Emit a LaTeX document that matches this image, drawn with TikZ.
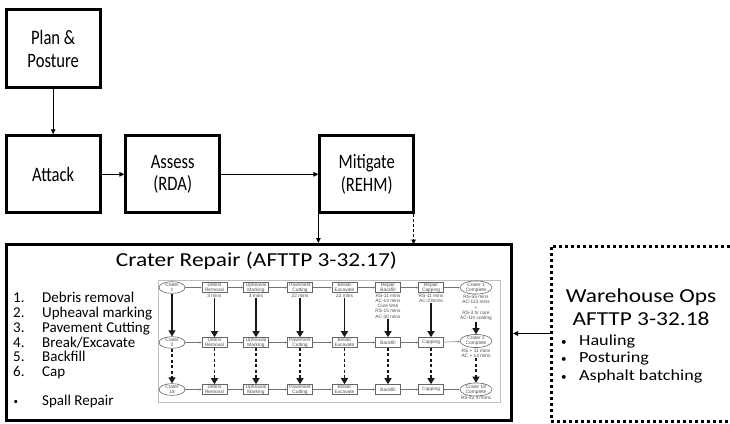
\documentclass[tikz,border=0pt]{standalone}
\usepackage{fontspec}
\setmainfont{Carlito}
\newfontfamily\narrowf[FakeStretch=0.81]{Carlito}
\newfontfamily\widef[FakeStretch=1.18]{Carlito}
\newfontfamily\arialf{Liberation Sans}
\usetikzlibrary{arrows.meta,shapes.geometric}
\begin{document}
\begin{tikzpicture}[x=1pt,y=-1pt,
  topbox/.style={draw,line width=3pt,inner sep=0pt,align=center,font=\narrowf\fontsize{20.5}{22.5}\selectfont},
  conn/.style={line width=1pt,-{Triangle[length=5pt,width=4.5pt]}},
  bigbox/.style={draw,line width=3pt,inner sep=0pt},
  ttl/.style={anchor=base,inner sep=0pt,font=\widef\fontsize{19.8}{22}\selectfont},
  lst/.style={anchor=base west,inner sep=0pt,font=\fontsize{15}{15}\selectfont},
  blt/.style={anchor=base west,inner sep=0pt,font=\widef\fontsize{15.4}{15.4}\selectfont},
  ibox/.style={draw=black!60,line width=0.6pt,minimum width=25pt,minimum height=10pt,inner sep=0pt,align=center,text=black!70,font=\arialf\fontsize{4.8}{4.9}\selectfont},
  ioval/.style={ibox,ellipse,minimum width=26pt,minimum height=10pt},
  inote/.style={anchor=north,inner sep=0.6pt,align=center,text=black!70,font=\arialf\fontsize{4.8}{5.3}\selectfont},
  harr/.style={draw=black!55,line width=0.5pt,-{Triangle[length=2.2pt,width=2pt]}},
  varr/.style={draw=black!90,line width=1.3pt,-{Triangle[length=6pt,width=7pt]}},
  darr/.style={varr,dash pattern=on 3pt off 2.5pt}
]
\useasboundingbox (0,0) rectangle (730,423);
\clip (0,0) rectangle (730,423);

% top flow
\node[topbox,minimum width=94pt,minimum height=78pt] (plan) at (53.2,48.8) {Plan \&\\Posture};
\node[topbox,minimum width=94pt,minimum height=77pt] (attack) at (53.2,174.3) {Attack};
\node[topbox,minimum width=93.7pt,minimum height=77pt] (assess) at (172.7,174.3) {Assess\\(RDA)};
\node[topbox,minimum width=93.7pt,minimum height=77pt] (mit) at (366.7,174.3) {Mitigate\\(REHM)};

\draw[conn] (plan) -- (attack);
\draw[conn] (attack) -- (assess);
\draw[conn] (assess) -- (mit);

% big boxes
\node[bigbox,minimum width=505pt,minimum height=176pt] (crater) at (259,332.5) {};
\node[draw,line width=3pt,dash pattern=on 3pt off 3pt,inner sep=0pt,minimum width=200pt,minimum height=175pt] (wh) at (651,333.5) {};

\draw[conn] (mit.south west) -- (mit.south west |- crater.north);
\draw[conn,dash pattern=on 3pt off 2pt] ([xshift=-1.5pt]mit.south east) -- ([xshift=-1.5pt]mit.south east |- wh.north);
\draw[conn] (wh.west) -- (crater.east |- wh.west);

% crater repair title and list
\node[ttl] (ctitle) at (256.5,266.7) {Crater Repair (AFTTP 3-32.17)};
\foreach \n/\t/\y in {1/Debris removal/302.7,2/Upheaval marking/317.5,3/Pavement Cutting/332.3,4/Break\slash Excavate/347.1,5/Backfill/361.9,6/Cap/376.7}{
  \node[lst] (ln\n) at (13,\y) {\n.};
  \node[lst] (lt\n) at (42,\y) {\t};
}
\node[lst,font=\fontsize{9}{9}\selectfont] (lbs) at (13.5,404) {•};
\node[lst] (lspall) at (42,405) {Spall Repair};

% warehouse text
\node[ttl] (wh1) at (641,302.7) {Warehouse Ops};
\node[ttl] (wh2) at (641,325) {AFTTP 3-32.18};
\foreach \i/\t/\y in {1/Hauling/345,2/Posturing/362.5,3/Asphalt batching/380}{
  \node[blt,font=\fontsize{11}{11}\selectfont] (wb\i) at (561,\y) {•};
  \node[blt] (wt\i) at (579,\y) {\t};
}

% inner flowchart
\draw[black!25,line width=0.8pt] (158,280) rectangle (500,402);
\begin{scope}
\clip (158,280) rectangle (500,402);
\foreach \r/\y in {1/287.5,2/342.5,3/389.5}{
  \node[ibox] (d\r) at (214.5,\y) {Debris\\Removal};
  \node[ibox] (u\r) at (256,\y) {Upheaval\\Marking};
  \node[ibox] (p\r) at (300,\y) {Pavement\\Cutting};
  \node[ibox] (b\r) at (344.5,\y) {Break/\\Excavate};
}
\node[ioval] (c1) at (172,287.5) {Crater\\1};
\node[ioval] (c2) at (172,342.5) {Crater\\2};
\node[ioval] (c3) at (172,389.5) {Crater\\18};
\node[ibox] (f1) at (388,287.5) {Repair\\Backfill};
\node[ibox] (f2) at (388,342.5) {Backfill};
\node[ibox] (f3) at (388,389.5) {Backfill};
\node[ibox] (k1) at (431,287.5) {Repair\\Capping};
\node[ibox] (k2) at (431,342.5) {Capping};
\node[ibox] (k3) at (431,389.5) {Capping};
\node[ioval,minimum width=32pt] (e1) at (476,287.5) {Crater 1\\Complete};
\node[ioval,minimum width=32pt] (e2) at (476,341) {Crater 2\\Complete};
\node[ioval,minimum width=32pt] (e3) at (476,389.5) {Crater 18\\Complete};

\node[inote] (td) at (d1.south) {3 mins};
\node[inote] (tu) at (u1.south) {3 mins};
\node[inote] (tp) at (p1.south) {22 mins};
\node[inote] (tb) at (b1.south) {22 mins};
\node[inote] (tf) at (f1.south) {RS-11 mins\\AC-14 mins\\Cure time\\RS-15 mins\\AC-30 mins};
\node[inote] (tk) at (k1.south) {RS-11 mins\\AC-23mins};
\node[inote] (te) at (e1.south) {RS-55 mins\\AC-113 mins\\+\\RS-3 hr cure\\AC-1hr cooling};
\node[inote] (te2) at (e2.south) {RS + 11 mins\\AC + 14 mins};
\node[inote] (te3) at ([yshift=1pt]e3.south) {RS-4x 37mins};

\foreach \r in {1,2,3}{
  \foreach \a/\b in {c/d,d/u,u/p,p/b,b/f,f/k,k/e}{
    \draw[harr] (\a\r) -- (\b\r);
  }
}
\draw[varr] (c1) -- (c2);
\foreach \t/\b in {td/d,tu/u,tp/p,tb/b,tf/f,tk/k,te/e}{
  \draw[varr] (\t.south) -- (\b2.north);
}
\draw[darr] (c2) -- (c3);
\foreach \b in {d,u,p,b,f,k}{
  \draw[darr] (\b2.south) -- (\b3.north);
}
\draw[darr] (te2.south) -- (e3.north);
\end{scope}
\end{tikzpicture}
\end{document}
